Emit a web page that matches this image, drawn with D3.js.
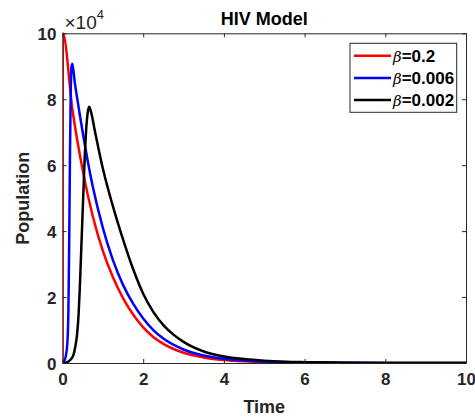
<!DOCTYPE html>
<html lang="en">
<head>
    <meta charset="UTF-8">
    <script src="https://d3js.org/d3.v7.min.js"></script>
    <title>HIV Model</title>
    <style>
        html,
        body {
            margin: 0px;
            padding: 0px;
            background-color: #ffffff;
            font-family: "Liberation Sans", Arial, sans-serif;
        }
    </style>
</head>
<body>
    <div id='chart'></div>
    <script>

        // values, population in units of 1e4
        const redT   = [0, 0.008, 0.25, 0.5, 0.75, 1.0, 1.25, 1.5, 1.75, 2.0, 2.25, 2.5, 3.0, 3.5, 4.0, 4.5, 5, 6, 7, 8, 10];
        const redV   = [0, 10, 7.65, 5.85, 4.45, 3.4, 2.6, 1.97, 1.47, 1.08, 0.79, 0.58, 0.31, 0.17, 0.09, 0.05, 0.03, 0.01, 0.003, 0, 0];

        const blueT  = [0, 0.03, 0.08, 0.12, 0.145, 0.165, 0.185, 0.205, 0.225, 0.245, 0.3, 0.4, 0.5, 0.75, 1.0, 1.25, 1.5, 1.75, 2.0, 2.25, 2.5, 3.0, 3.5, 4.0, 4.5, 5, 6, 7, 8, 10];
        const blueV  = [0, 0.02, 0.2, 0.6, 1.5, 3.5, 6.3, 8.3, 9.0, 9.08, 8.55, 7.75, 7.0, 5.35, 4.1, 3.12, 2.37, 1.8, 1.35, 1.0, 0.74, 0.41, 0.23, 0.13, 0.075, 0.045, 0.015, 0.005, 0, 0];

        const blackT = [0, 0.08, 0.19, 0.27, 0.31, 0.36, 0.40, 0.43, 0.46, 0.50, 0.54, 0.58, 0.62, 0.66, 0.71, 0.8, 1.0, 1.25, 1.5, 1.75, 2.0, 2.25, 2.5, 2.75, 3.0, 3.5, 4.0, 4.5, 5, 5.5, 6, 7, 8, 10];
        const blackV = [0, 0.01, 0.09, 0.24, 0.45, 0.85, 1.5, 2.3, 3.3, 4.6, 5.9, 6.95, 7.55, 7.77, 7.6, 7.05, 5.9, 4.75, 3.75, 2.85, 2.1, 1.55, 1.15, 0.86, 0.64, 0.35, 0.2, 0.12, 0.07, 0.04, 0.025, 0.01, 0, 0];

        const xTicks = [0, 2, 4, 6, 8, 10];
        const yTicks = [0, 2, 4, 6, 8, 10];

        const seriesNames = ['=0.2', '=0.006', '=0.002'];
        const seriesColors = ['#ff0000', '#0000ff', '#000000'];

        const width = 475, height = 419;
        const margin = {left: 62.5, right: 9, top: 33.3, bottom: 56};
        const axisColor = '#262626';

        let svg = d3.select('#chart').append('svg')
            .attr('width', width).attr('height', height);

        let x = d3.scaleLinear().domain([0, 10]).range([margin.left, width - margin.right]);
        let y = d3.scaleLinear().domain([0, 10]).range([height - margin.bottom, margin.top]);

        svg.append('clipPath').attr('id', 'clip')
            .append('rect')
            .attr('x', x(0)).attr('y', y(10) - 2)
            .attr('width', x(10) - x(0)).attr('height', y(0) - y(10) + 2);

        let line = d3.line()
            .x(d => x(d[0]))
            .y(d => y(d[1]))
            .curve(d3.curveMonotoneX);

        let series = [
            d3.zip(redT, redV),
            d3.zip(blueT, blueV),
            d3.zip(blackT, blackV)
        ];

        svg.append('g').attr('clip-path', 'url(#clip)')
            .selectAll('path')
            .data(series)
            .join('path')
            .attr('d', line)
            .attr('fill', 'none')
            .attr('stroke', (d, i) => seriesColors[i])
            .attr('stroke-width', 2.5)
            .attr('stroke-linejoin', 'round');

        // axes, ticks point inward like the original
        let xAxis = svg.append('g')
            .attr('transform', `translate(0,${y(0)})`)
            .call(d3.axisBottom(x).tickValues(xTicks).tickSizeInner(-4).tickSizeOuter(0).tickPadding(10));
        let yAxis = svg.append('g')
            .attr('transform', `translate(${x(0)},0)`)
            .call(d3.axisLeft(y).tickValues(yTicks).tickSizeInner(-4).tickSizeOuter(0).tickPadding(6));
        let xTop = svg.append('g')
            .attr('transform', `translate(0,${y(10)})`)
            .call(d3.axisTop(x).tickValues(xTicks).tickSizeInner(-4).tickSizeOuter(0).tickFormat(''));
        let yRight = svg.append('g')
            .attr('transform', `translate(${x(10)},0)`)
            .call(d3.axisRight(y).tickValues(yTicks).tickSizeInner(-4).tickSizeOuter(0).tickFormat(''));

        [xAxis, yAxis, xTop, yRight].forEach(g => {
            g.select('.domain').attr('stroke', axisColor).attr('stroke-width', 1);
            g.selectAll('.tick line').attr('stroke', axisColor);
            g.selectAll('.tick text')
                .attr('fill', axisColor)
                .attr('font-family', '"Liberation Sans", Arial, sans-serif')
                .attr('font-size', 17)
                .attr('font-weight', 'bold');
        });
        yAxis.selectAll('.tick text').attr('dy', '0.36em');

        // exponent label
        let expo = svg.append('text')
            .attr('x', x(0) + 2).attr('y', 29)
            .attr('fill', axisColor)
            .attr('font-size', 19);
        expo.append('tspan').text('\u00d710');
        expo.append('tspan').attr('font-size', 13).attr('dy', -10).text('4');

        svg.append('text')
            .attr('x', (x(0) + x(10)) / 2).attr('y', 25)
            .attr('text-anchor', 'middle')
            .attr('font-size', 18).attr('font-weight', 'bold')
            .attr('fill', '#000')
            .text('HIV Model');

        svg.append('text')
            .attr('x', (x(0) + x(10)) / 2).attr('y', 413)
            .attr('text-anchor', 'middle')
            .attr('font-size', 18).attr('font-weight', 'bold')
            .attr('fill', axisColor)
            .text('Time');

        svg.append('text')
            .attr('transform', `translate(29,${(y(0) + y(10)) / 2}) rotate(-90)`)
            .attr('text-anchor', 'middle')
            .attr('font-size', 18).attr('font-weight', 'bold')
            .attr('fill', axisColor)
            .text('Population');

        // legend
        let legend = svg.append('g');
        legend.append('rect')
            .attr('x', 350).attr('y', 43.3)
            .attr('width', 106.7).attr('height', 69)
            .attr('fill', '#fff')
            .attr('stroke', axisColor).attr('stroke-width', 1);

        let rows = legend.selectAll('g.row')
            .data(seriesNames)
            .join('g')
            .attr('class', 'row')
            .attr('transform', (d, i) => `translate(0,${55.7 + i * 22.2})`);

        rows.append('line')
            .attr('x1', 354).attr('x2', 391)
            .attr('stroke', (d, i) => seriesColors[i])
            .attr('stroke-width', 2.5);

        let lt = rows.append('text')
            .attr('x', 393).attr('dy', '0.36em')
            .attr('font-size', 17)
            .attr('fill', '#000');
        lt.append('tspan').attr('font-style', 'italic').attr('font-family', '"DejaVu Serif", serif').attr('font-size', 15).text('\u03b2');
        lt.append('tspan').attr('font-weight', 'bold').text(d => d);

    </script>
</body>
</html>
